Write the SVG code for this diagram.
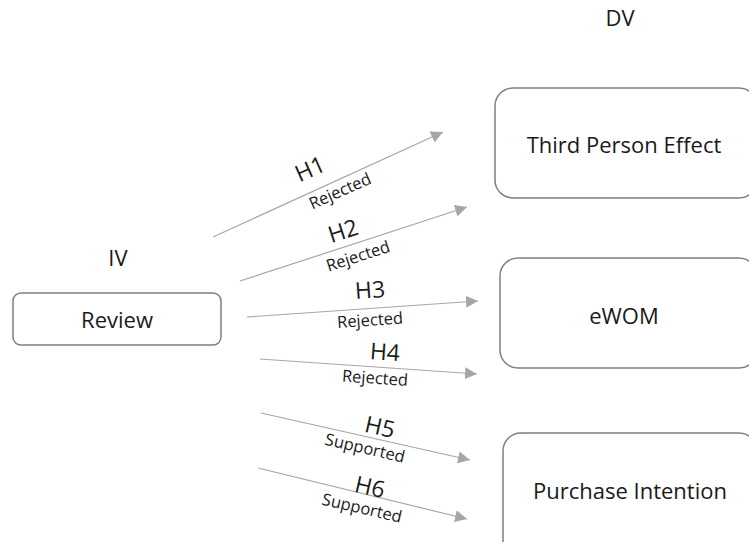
<svg xmlns="http://www.w3.org/2000/svg" width="749" height="542" viewBox="0 0 749 542">
<style>
text{font-family:"Open Sans","Noto Sans","Liberation Sans",sans-serif;fill:#1a1a1a;text-anchor:middle}
.box{fill:#fff;stroke:#7f7f7f;stroke-width:1.5}
.t{font-size:22px}
.h{font-size:23px}
.s{font-size:16.5px}
.c{stroke:#a6a6a6;stroke-width:1.2;fill:none;marker-end:url(#ah)}
</style>
<defs>
<marker id="ah" viewBox="0 0 10 10" refX="10" refY="5" markerWidth="12" markerHeight="12" markerUnits="userSpaceOnUse" orient="auto">
<path d="M0,0 L10,5 L0,10 z" fill="#a6a6a6"/>
</marker>
</defs>
<rect width="749" height="542" fill="#fff"/>
<text class="t" x="620" y="26">DV</text>
<text class="t" x="118" y="266">IV</text>
<g id="review">
<rect class="box" x="13" y="293" width="208" height="52" rx="8"/>
<text class="t" x="117" y="328">Review</text>
</g>
<g id="tpe">
<rect class="box" x="495" y="88" width="262" height="110" rx="18"/>
<text class="t" x="624" y="153">Third Person Effect</text>
</g>
<g id="ewom">
<rect class="box" x="500" y="258" width="257" height="110" rx="18"/>
<text class="t" x="624" y="324">eWOM</text>
</g>
<g id="pi">
<rect class="box" x="503" y="433" width="254" height="130" rx="18"/>
<text class="t" x="630" y="499">Purchase Intention</text>
</g>
<g id="connectors">
<line class="c" x1="213" y1="237" x2="443" y2="132"/>
<line class="c" x1="240" y1="281" x2="467" y2="207"/>
<line class="c" x1="247" y1="317" x2="478" y2="301"/>
<line class="c" x1="260" y1="359" x2="477" y2="374"/>
<line class="c" x1="261" y1="413" x2="470" y2="460"/>
<line class="c" x1="258" y1="468" x2="467" y2="519"/>
</g>
<g id="labels">
<text class="h" dy="0.35em" transform="translate(310,169) rotate(-24)">H1</text>
<text class="s" dy="0.35em" transform="translate(340,191) rotate(-24)">Rejected</text>
<text class="h" dy="0.35em" transform="translate(343,231) rotate(-18)">H2</text>
<text class="s" dy="0.35em" transform="translate(358,256) rotate(-18)">Rejected</text>
<text class="h" dy="0.35em" transform="translate(370,290) rotate(-4)">H3</text>
<text class="s" dy="0.35em" transform="translate(370,320) rotate(-4)">Rejected</text>
<text class="h" dy="0.35em" transform="translate(385,352) rotate(4)">H4</text>
<text class="s" dy="0.35em" transform="translate(375,378) rotate(4)">Rejected</text>
<text class="h" dy="0.35em" transform="translate(380,427) rotate(13)">H5</text>
<text class="s" dy="0.35em" transform="translate(365,448) rotate(13)">Supported</text>
<text class="h" dy="0.35em" transform="translate(370,487) rotate(13)">H6</text>
<text class="s" dy="0.35em" transform="translate(362,508) rotate(13)">Supported</text>
</g>
</svg>
